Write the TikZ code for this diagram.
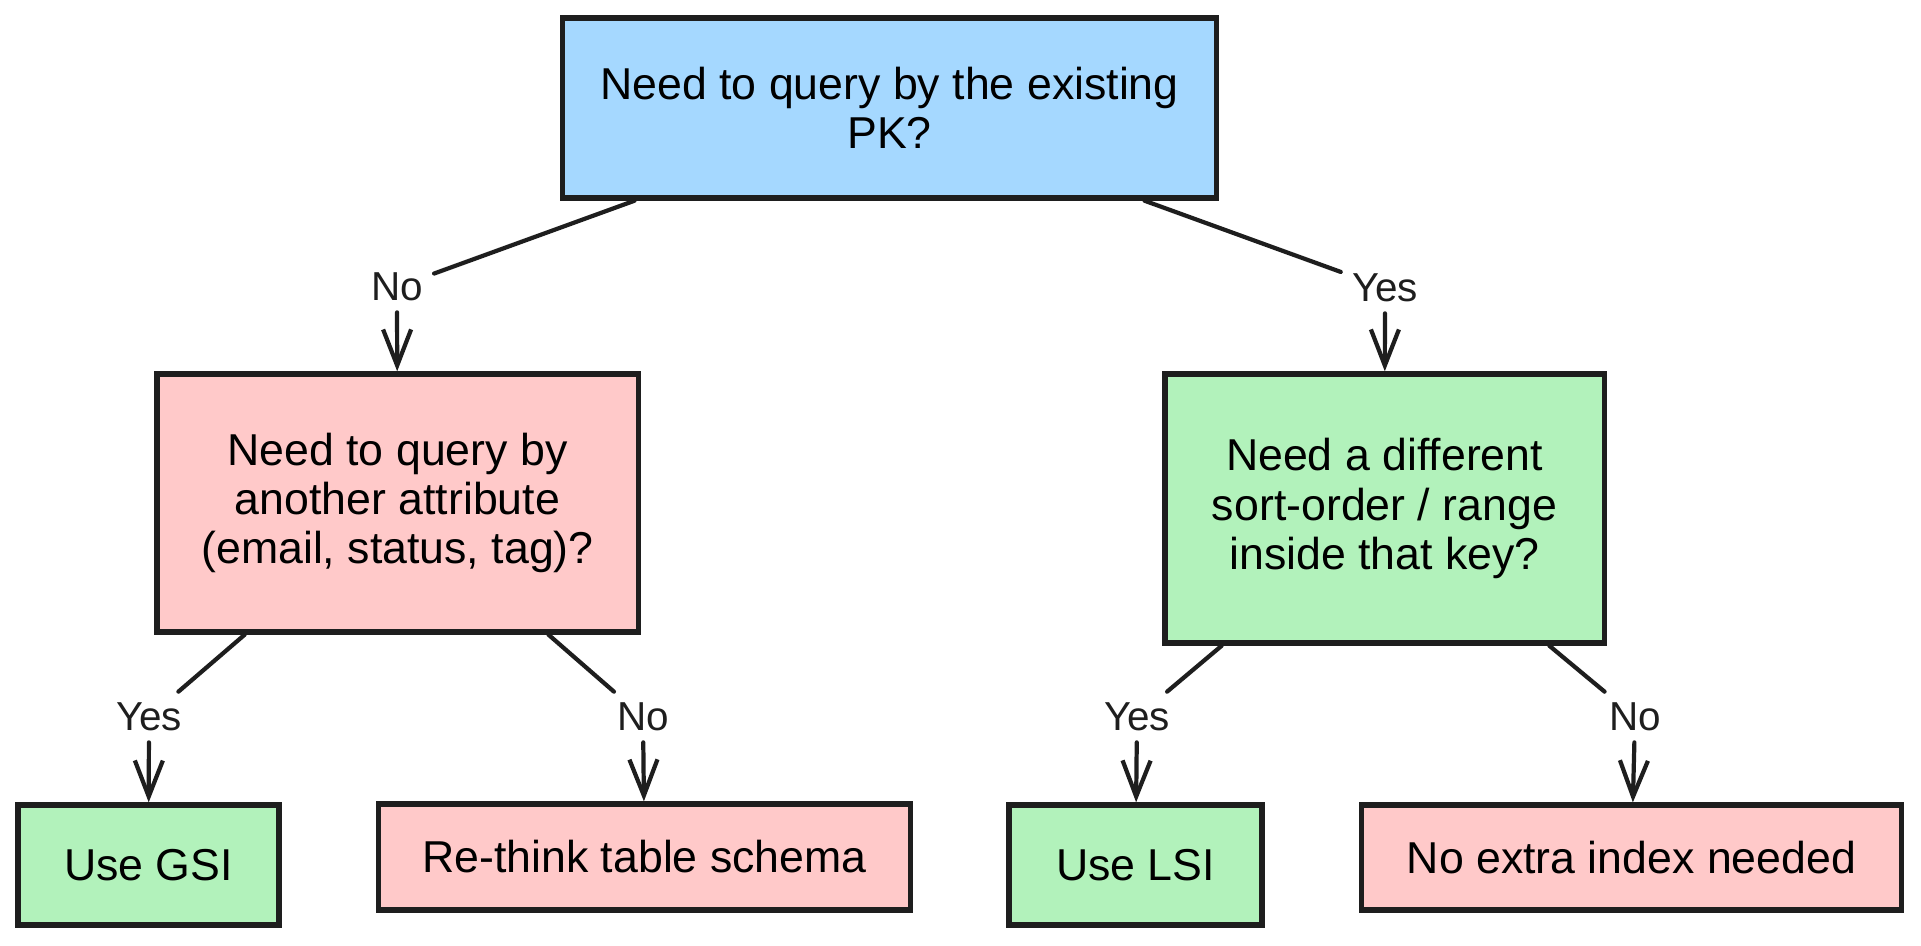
\documentclass[tikz,border=0pt]{standalone}
\usepackage{fontspec}
\setmainfont{Liberation Sans}
\usetikzlibrary{arrows.meta}
\definecolor{ink}{HTML}{1E1E1E}
\definecolor{qblue}{HTML}{A5D8FF}
\definecolor{qpink}{HTML}{FFC9C9}
\definecolor{qgreen}{HTML}{B2F2BB}
\begin{document}
\begin{tikzpicture}[x=0.01cm,y=-0.01cm,
    box/.style={draw=ink, line width=1.5pt, align=center, inner sep=0pt,
      font=\fontsize{12.7}{14}\selectfont},
    ans/.style={inner sep=3pt, text=ink, font=\fontsize{11.5}{13}\selectfont},
    link/.style={draw=ink, line width=1.2pt, line cap=round},
    arr/.style={link, -{Straight Barb[length=3.6mm,width=2.8mm]}}]
  \useasboundingbox (0,0) rectangle (1921,945);
  \node[box, fill=qblue, minimum width=6.53cm, minimum height=1.8cm] (pk) at (889.5,108)
    {Need to query by the existing\\PK?};
  \node[box, fill=qpink, minimum width=4.81cm, minimum height=2.58cm] (attr) at (397.5,503)
    {Need to query by\\another attribute\\(email, status, tag)?};
  \node[box, fill=qgreen, minimum width=4.39cm, minimum height=2.69cm] (sort) at (1384.5,508.5)
    {Need a different\\sort-order / range\\inside that key?};
  \node[box, fill=qgreen, minimum width=2.61cm, minimum height=1.2cm] (gsi) at (148.5,865) {Use GSI};
  \node[box, fill=qpink, minimum width=5.31cm, minimum height=1.06cm] (rethink) at (644.5,857) {Re-think table schema};
  \node[box, fill=qgreen, minimum width=2.53cm, minimum height=1.2cm] (lsi) at (1135.5,865) {Use LSI};
  \node[box, fill=qpink, minimum width=5.39cm, minimum height=1.05cm] (noidx) at (1631.5,857.5) {No extra index needed};
  \node[ans] (pkno) at (397,287) {No};
  \node[ans] (pkyes) at (1385,288) {Yes};
  \node[ans] (attryes) at (149,717) {Yes};
  \node[ans] (attrno) at (643,717) {No};
  \node[ans] (sortyes) at (1137,717) {Yes};
  \node[ans] (sortno) at (1635,717) {No};
  \draw[link] (pk) -- (pkno);
  \draw[arr] (pkno) -- (attr);
  \draw[link] (pk) -- (pkyes);
  \draw[arr] (pkyes) -- (sort);
  \draw[link] (attr) -- (attryes);
  \draw[arr] (attryes) -- (gsi);
  \draw[link] (attr) -- (attrno);
  \draw[arr] (attrno) -- (rethink);
  \draw[link] (sort) -- (sortyes);
  \draw[arr] (sortyes) -- (lsi);
  \draw[link] (sort) -- (sortno);
  \draw[arr] (sortno) -- (noidx);
\end{tikzpicture}
\end{document}
